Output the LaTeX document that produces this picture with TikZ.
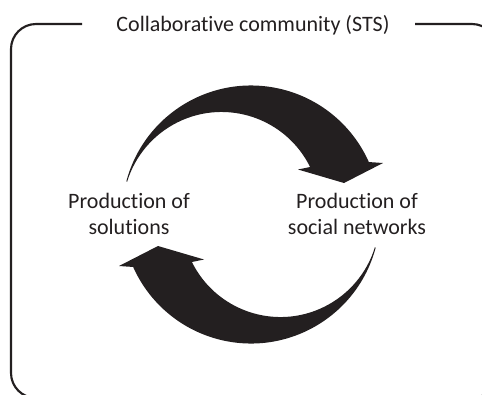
\documentclass[tikz,border=0pt]{standalone}
\usepackage{fontspec}
\setmainfont{Carlito}[Ligatures=NoCommon]
\usepackage{tikz}
\definecolor{inkblack}{RGB}{35,31,32}

\begin{document}
\begin{tikzpicture}[x=0.75pt,y=0.75pt,yscale=-1,xscale=1,
    lbl/.style={font=\fontsize{16.5}{19.5}\selectfont, align=center, inner sep=0.75pt, text=inkblack}]
        \useasboundingbox (0,0) rectangle (482,394);
        \clip (0,0) rectangle (482,394);
        % frame with a gap for the title
        \draw [color=inkblack, line width=1.6pt, rounded corners=18.75pt] (415,24) -- (497,24) -- (497,398) -- (11,398) -- (11,24) -- (82,24) ;

        \draw (253,25) node [lbl] (title) {Collaborative community (STS)};
        \draw (129,214) node [lbl] (solutions) {Production of\\solutions};
        \draw (357,214) node [lbl] (networks) {Production of\\social networks};

        % the two curved arrows, centred on (251,214.5)
        \begin{scope}[shift={(251,214.5)}, yscale=-1]
            \fill [inkblack] (165:129) arc [start angle=165, end angle=24, radius=129] -- (132,51.5) -- (93,31.5) -- (47,45) -- (59.1,47.5) arc [start angle=26.3, end angle=163, radius=98.8] -- cycle ;
            \fill [inkblack, rotate=180] (165:129) arc [start angle=165, end angle=24, radius=129] -- (132,51.5) -- (93,31.5) -- (47,45) -- (59.1,47.5) arc [start angle=26.3, end angle=163, radius=98.8] -- cycle ;
        \end{scope}
\end{tikzpicture}
\end{document}
